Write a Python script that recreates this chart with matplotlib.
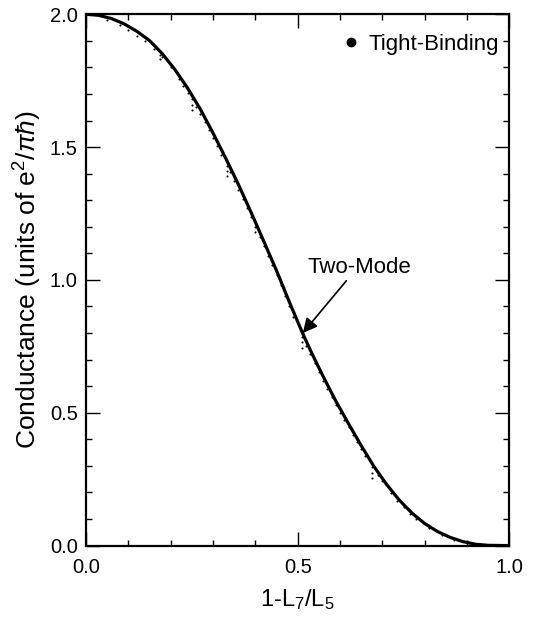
import matplotlib
matplotlib.use("Agg")
import matplotlib.pyplot as plt
from matplotlib.lines import Line2D
from matplotlib.ticker import MultipleLocator

plt.rcParams['font.family'] = ['Liberation Sans', 'DejaVu Sans']
plt.rcParams['mathtext.fontset'] = 'custom'
plt.rcParams['mathtext.rm'] = 'Liberation Sans'
plt.rcParams['mathtext.it'] = 'Liberation Sans:italic'

# two-mode curve
x_two = [0.0, 0.03, 0.06, 0.09, 0.12, 0.15, 0.18, 0.21, 0.24, 0.27,
         0.30, 0.33, 0.36, 0.39, 0.42, 0.45, 0.48, 0.51, 0.53, 0.56,
         0.59, 0.62, 0.65, 0.68, 0.71, 0.74, 0.77, 0.80, 0.83, 0.86,
         0.89, 0.92, 0.95, 1.0]
g_two = [2.0, 1.996, 1.984, 1.964, 1.936, 1.901, 1.852, 1.792, 1.722, 1.643,
         1.553, 1.458, 1.359, 1.254, 1.145, 1.035, 0.918, 0.805, 0.735, 0.637,
         0.544, 0.459, 0.376, 0.298, 0.230, 0.171, 0.122, 0.083, 0.053, 0.031,
         0.015, 0.005, 0.001, 0.0]

# tight-binding points (small dots just under the curve)
x_tb = [0.05, 0.08, 0.10, 0.12, 0.14, 0.16, 0.175, 0.175, 0.18, 0.20, 0.22, 0.23,
        0.24, 0.25, 0.25, 0.25, 0.26, 0.27, 0.28, 0.29, 0.30, 0.31, 0.32,
        0.333, 0.333, 0.333, 0.34, 0.35, 0.36, 0.37, 0.38, 0.39, 0.40, 0.40,
        0.41, 0.42, 0.43, 0.44, 0.45, 0.46, 0.47, 0.48, 0.49, 0.51, 0.51, 0.51,
        0.52, 0.53, 0.54, 0.55, 0.56, 0.57, 0.58, 0.59, 0.60, 0.61, 0.62, 0.63,
        0.64, 0.65, 0.66, 0.675, 0.675, 0.675, 0.69, 0.70, 0.72, 0.735, 0.75,
        0.765, 0.78, 0.81, 0.84, 0.87, 0.90]
g_tb = [1.978, 1.958, 1.942, 1.92, 1.898, 1.87, 1.848, 1.83, 1.838, 1.80, 1.755, 1.73,
        1.705, 1.68, 1.66, 1.64, 1.65, 1.625, 1.595, 1.565, 1.535, 1.503, 1.47,
        1.43, 1.41, 1.39, 1.405, 1.374, 1.34, 1.306, 1.27, 1.236, 1.20, 1.18,
        1.162, 1.128, 1.09, 1.055, 1.017, 0.98, 0.94, 0.90, 0.86, 0.785, 0.765, 0.745,
        0.752, 0.72, 0.687, 0.654, 0.621, 0.59, 0.558, 0.529, 0.50, 0.473, 0.445, 0.417,
        0.39, 0.363, 0.336, 0.295, 0.275, 0.255, 0.265, 0.245, 0.198, 0.168, 0.145,
        0.12, 0.10, 0.067, 0.041, 0.022, 0.009]

fig = plt.figure(figsize=(5.34, 6.2), dpi=100)
ax = fig.add_axes([0.161, 0.12, 0.793, 0.857])

ax.plot(x_tb, g_tb, 'o', color='black', ms=1.5, mew=0)
ax.plot(x_two, g_two, '-', color='black', lw=2.3)

ax.set_xlim(0, 1)
ax.set_ylim(0, 2)
ax.xaxis.set_major_locator(MultipleLocator(0.5))
ax.xaxis.set_minor_locator(MultipleLocator(0.1))
ax.yaxis.set_major_locator(MultipleLocator(0.5))
ax.yaxis.set_minor_locator(MultipleLocator(0.1))
ax.xaxis.set_major_formatter(plt.FormatStrFormatter('%.1f'))
ax.yaxis.set_major_formatter(plt.FormatStrFormatter('%.1f'))
ax.tick_params(which='both', direction='in', top=True, right=True, labelsize=14.5, width=1)
ax.tick_params(which='major', length=10)
ax.tick_params(which='minor', length=4.5)
ax.tick_params(axis='x', which='major', pad=9)
ax.tick_params(axis='y', which='major', pad=6)
for s in ax.spines.values():
    s.set_linewidth(1.6)

ax.set_xlabel(r'1-L$_7$/L$_5$', fontsize=17, labelpad=7)
ax.set_ylabel(r'Conductance (units of e$^2$/$\pi\hbar$)', fontsize=19, labelpad=4)

ax.text(0.645, 1.025, 'Two-Mode', ha='center', va='baseline', fontsize=16)
ax.annotate('', xy=(0.512, 0.80), xytext=(0.615, 0.997),
            arrowprops=dict(arrowstyle='-|>', color='black', lw=1.2,
                            mutation_scale=22, shrinkA=0, shrinkB=0))

handle = Line2D([], [], marker='o', color='black', ls='none', ms=6)
ax.legend([handle], ['Tight-Binding'], loc='upper right', frameon=False,
          bbox_to_anchor=(1.012, 0.9925), fontsize=16, handletextpad=0.3,
          borderaxespad=0.3, handlelength=1.0)

fig.savefig('out.png', dpi=100)
